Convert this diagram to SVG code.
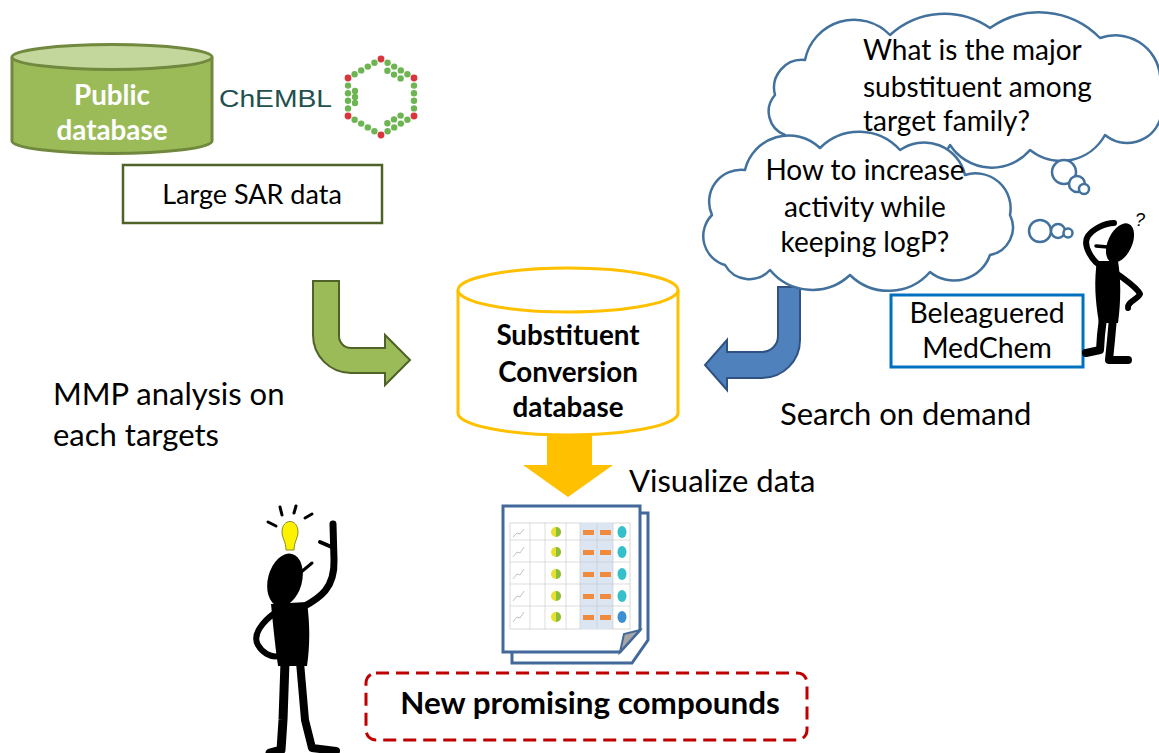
<svg xmlns="http://www.w3.org/2000/svg" width="1159" height="753" viewBox="0 0 1159 753">
  <style>
    .t { font-family: Lato, "Open Sans", "Liberation Sans", sans-serif; font-size: 28px; fill: #000; }
    .big { font-size: 31px; }
    .b { font-family: Lato, "Open Sans", "Liberation Sans", sans-serif; font-size: 27.8px; font-weight: bold; fill: #000; }
    .mid { text-anchor: middle; }
    .cloud { fill: #fff; stroke: #41719C; stroke-width: 2.5; stroke-linejoin: round; }
    .ink { fill: none; stroke: #000; stroke-linecap: round; stroke-linejoin: round; }
    .gd { fill: #6DB552; }
    .rd { fill: #D8363D; }
    .grid { stroke: #C8C8C8; stroke-width: 0.6; }
  </style>

  <!-- public database cylinder -->
  <g id="public-db">
    <path d="M12,57 L12,141 A100,12.5 0 0 0 212,141 L212,57" fill="#9BBB59" stroke="#71893F" stroke-width="3"/>
    <ellipse cx="112" cy="57" rx="100" ry="12.5" fill="#C3D69B" stroke="#71893F" stroke-width="3"/>
    <text class="b mid" x="112" y="105" style="fill:#fff">Public</text>
    <text class="b mid" x="112" y="140" style="fill:#fff">database</text>
  </g>

  <!-- ChEMBL logo: name and dotted hexagon -->
  <g id="chembl">
    <text x="219" y="107" font-family="'Liberation Sans', Arial, sans-serif" font-size="24" fill="#224F50" textLength="113" lengthAdjust="spacingAndGlyphs">ChEMBL</text>
    <g class="gd">
      <circle cx="387.6" cy="62.8" r="3.2"/><circle cx="394.2" cy="66.6" r="3.2"/><circle cx="400.8" cy="70.4" r="3.2"/><circle cx="407.4" cy="74.2" r="3.2"/>
      <circle cx="387.4" cy="70.8" r="3.2"/><circle cx="394" cy="74.6" r="3.2"/><circle cx="400.6" cy="78.4" r="3.2"/>
      <circle cx="414" cy="85.6" r="3.2"/><circle cx="414" cy="93.2" r="3.2"/><circle cx="414" cy="100.8" r="3.2"/><circle cx="414" cy="108.4" r="3.2"/>
      <circle cx="407.4" cy="119.8" r="3.2"/><circle cx="400.8" cy="123.6" r="3.2"/><circle cx="394.2" cy="127.4" r="3.2"/><circle cx="387.6" cy="131.2" r="3.2"/>
      <circle cx="400.6" cy="115.6" r="3.2"/><circle cx="394" cy="119.4" r="3.2"/><circle cx="387.4" cy="123.2" r="3.2"/>
      <circle cx="374.4" cy="131.2" r="3.2"/><circle cx="367.8" cy="127.4" r="3.2"/><circle cx="361.2" cy="123.6" r="3.2"/><circle cx="354.6" cy="119.8" r="3.2"/>
      <circle cx="348" cy="108.4" r="3.2"/><circle cx="348" cy="100.8" r="3.2"/><circle cx="348" cy="93.2" r="3.2"/><circle cx="348" cy="85.6" r="3.2"/>
      <circle cx="355" cy="103" r="3.2"/><circle cx="355" cy="97" r="3.2"/><circle cx="355" cy="91" r="3.2"/>
      <circle cx="354.6" cy="74.2" r="3.2"/><circle cx="361.2" cy="70.4" r="3.2"/><circle cx="367.8" cy="66.6" r="3.2"/><circle cx="374.4" cy="62.8" r="3.2"/>
    </g>
    <g class="rd">
      <circle cx="381" cy="59" r="3.4"/><circle cx="414" cy="78" r="3.4"/><circle cx="414" cy="116" r="3.4"/>
      <circle cx="381" cy="135" r="3.4"/><circle cx="348" cy="116" r="3.4"/><circle cx="348" cy="78" r="3.4"/>
    </g>
  </g>

  <!-- source data box -->
  <g id="large-sar">
    <rect x="123" y="165" width="259" height="58" fill="#fff" stroke="#4F6228" stroke-width="2.5"/>
    <text class="t mid" x="252" y="204" style="font-size:27px">Large SAR data</text>
  </g>

  <!-- connectors: bent arrows and the output arrow -->
  <g id="connectors">
    <path id="arrow-mmp" d="M313,281 L339,281 L339,336 A12,12 0 0 0 351,348 L385,348 L385,335 L410,360 L385,385 L385,373 L351,373 A38,38 0 0 1 313,335 Z" fill="#9BBB59" stroke="#4F6228" stroke-width="2"/>
    <path id="arrow-search" d="M778,287 L800,287 L800,340 A38,38 0 0 1 762,378 L727,378 L727,390 L705,365 L727,340 L727,352 L762,352 A16,16 0 0 0 778,336 Z" fill="#4F81BD" stroke="#2F5283" stroke-width="2"/>
    <path id="arrow-visualize" d="M547,430 L592,430 L592,465 L613,465 L568,497 L523,465 L547,465 Z" fill="#FFC000"/>
  </g>

  <!-- central database cylinder -->
  <g id="substituent-db">
    <path d="M458,290 L458,413 A110,22 0 0 0 678,413 L678,290" fill="#fff" stroke="#FFC000" stroke-width="3"/>
    <ellipse cx="568" cy="290" rx="110" ry="22" fill="#fff" stroke="#FFC000" stroke-width="3"/>
    <text class="b mid" x="568" y="345">Substituent</text>
    <text class="b mid" x="568" y="382">Conversion</text>
    <text class="b mid" x="568" y="417">database</text>
  </g>

  <!-- edge labels -->
  <g id="labels">
    <text class="t big" x="53" y="405">MMP analysis on</text>
    <text class="t big" x="53" y="446">each targets</text>
    <text class="t big" x="780" y="425">Search on demand</text>
    <text class="t big" x="629" y="492">Visualize data</text>
  </g>

  <!-- thought clouds -->
  <g id="cloud-major">
    <path class="cloud" d="M785,135 A25,25 0 0 1 775,95 A28,28 0 0 1 805,60 A50,50 0 0 1 890,35 A80,80 0 0 1 990,28 A85,85 0 0 1 1100,38 A45,45 0 0 1 1160,75 A30,30 0 0 1 1160,120 A35,35 0 0 1 1105,135 A50,50 0 0 1 1030,150 A50,50 0 0 1 950,145 A50,50 0 0 1 860,145 A45,45 0 0 1 785,135 Z"/>
    <circle class="cloud" cx="1064" cy="172" r="12"/>
    <circle class="cloud" cx="1077" cy="184" r="8"/>
    <circle class="cloud" cx="1084" cy="189" r="5"/>
    <text class="t" x="863" y="60">What is the major</text>
    <text class="t" x="863" y="97">substituent among</text>
    <text class="t" x="863" y="131">target family?</text>
  </g>

  <g id="cloud-logp">
    <path class="cloud" d="M725,265 A30,30 0 0 1 712,215 A32,32 0 0 1 745,170 A45,45 0 0 1 820,148 A55,55 0 0 1 900,150 A42,42 0 0 1 965,175 A35,35 0 0 1 1010,215 A28,28 0 0 1 990,255 A38,38 0 0 1 930,272 A55,55 0 0 1 850,275 A55,55 0 0 1 770,270 A28,28 0 0 1 725,265 Z"/>
    <circle class="cloud" cx="1040" cy="231" r="11"/>
    <circle class="cloud" cx="1058" cy="231" r="7"/>
    <circle class="cloud" cx="1068" cy="233" r="4.5"/>
    <text class="t mid" x="865" y="180">How to increase</text>
    <text class="t mid" x="865" y="217">activity while</text>
    <text class="t mid" x="865" y="252">keeping logP?</text>
  </g>

  <!-- puzzled chemist -->
  <g id="medchem">
    <rect x="891" y="295" width="192" height="72" fill="#fff" stroke="#0070C0" stroke-width="3"/>
    <text class="t mid" x="987" y="323" style="font-size:28.4px">Beleaguered</text>
    <text class="t mid" x="987" y="358" style="font-size:28.4px">MedChem</text>
    <ellipse cx="1120" cy="243" rx="12" ry="21" transform="rotate(25 1120 243)" fill="#000"/>
    <path class="ink" d="M1108,247 L1096,246" stroke-width="3.5"/>
    <path class="ink" d="M1104,268 C1092,262 1082,245 1088,236 C1093,229 1105,223 1114,223" stroke-width="6"/>
    <path d="M1097,261 L1118,261 C1121,280 1121,300 1118,323 L1099,323 C1095,300 1094,280 1097,261 Z" fill="#000"/>
    <path class="ink" d="M1115,272 C1125,280 1137,287 1140,294 C1137,300 1127,302 1128,308" stroke-width="6"/>
    <path class="ink" d="M1103,318 L1101,335 L1100,350 L1086,353" stroke-width="8"/>
    <path class="ink" d="M1113,318 L1111,340 L1109,360 L1128,360" stroke-width="8"/>
    <text x="1135" y="226" font-family="'Liberation Sans', sans-serif" font-size="18" font-style="italic" fill="#000">?</text>
  </g>

  <!-- result report pages -->
  <g id="report">
    <path d="M512,513 L648,513 L648,640 L632,663 L512,663 Z" fill="#fff" stroke="#43699A" stroke-width="3"/>
    <path d="M503,506 L640,506 L640,630 L620,652 L503,652 Z" fill="#fff" stroke="#43699A" stroke-width="3"/>
    <path d="M640,630 L620,652 L624,634 Z" fill="#A6A6A6" stroke="#43699A" stroke-width="2"/>
    <rect x="510" y="523" width="120" height="106" fill="#fff" stroke="#BFBFBF" stroke-width="0.6"/>
    <rect x="580" y="523" width="33" height="106" fill="#DCE6F2"/>
    <g class="grid">
      <line x1="510" y1="540" x2="630" y2="540"/><line x1="510" y1="562" x2="630" y2="562"/>
      <line x1="510" y1="584" x2="630" y2="584"/><line x1="510" y1="606" x2="630" y2="606"/>
      <line x1="530" y1="523" x2="530" y2="629"/><line x1="545" y1="523" x2="545" y2="629"/>
      <line x1="566" y1="523" x2="566" y2="629"/><line x1="580" y1="523" x2="580" y2="629"/>
      <line x1="597" y1="523" x2="597" y2="629"/><line x1="613" y1="523" x2="613" y2="629"/>
    </g>
    <g fill="none" stroke="#999" stroke-width="0.6">
      <path d="M513,537 L517,533 L520,534 L524,529"/><path d="M513,557 L517,552 L520,553 L524,547"/>
      <path d="M513,579 L517,574 L520,575 L524,569"/><path d="M513,601 L517,596 L520,597 L524,591"/>
      <path d="M513,622 L517,617 L520,618 L524,612"/>
    </g>
    <g>
      <circle cx="556" cy="532" r="5" fill="#E8E030"/><path d="M556,532 L556,527 A5,5 0 0 1 556,537 Z" fill="#8BBF3A"/>
      <circle cx="556" cy="552" r="5" fill="#E8E030"/><path d="M556,552 L556,547 A5,5 0 0 1 556,557 Z" fill="#8BBF3A"/>
      <circle cx="556" cy="574" r="5" fill="#E8E030"/><path d="M556,574 L556,569 A5,5 0 0 1 556,579 Z" fill="#8BBF3A"/>
      <circle cx="556" cy="596" r="5" fill="#E8E030"/><path d="M556,596 L556,591 A5,5 0 0 1 556,601 Z" fill="#8BBF3A"/>
      <circle cx="556" cy="617" r="5" fill="#E8E030"/><path d="M556,617 L556,612 A5,5 0 0 1 556,622 Z" fill="#8BBF3A"/>
    </g>
    <g fill="#F08A3C">
      <rect x="583" y="530" width="11" height="5"/><rect x="600" y="530" width="11" height="5"/>
      <rect x="583" y="550" width="11" height="5"/><rect x="600" y="550" width="11" height="5"/>
      <rect x="583" y="572" width="11" height="5"/><rect x="600" y="572" width="11" height="5"/>
      <rect x="583" y="594" width="11" height="5"/><rect x="600" y="594" width="11" height="5"/>
      <rect x="583" y="615" width="11" height="5"/><rect x="600" y="615" width="11" height="5"/>
    </g>
    <g fill="#35BFCB">
      <ellipse cx="622" cy="532" rx="4.5" ry="6"/><ellipse cx="622" cy="552" rx="4.5" ry="6"/>
      <ellipse cx="622" cy="574" rx="4.5" ry="6"/><ellipse cx="622" cy="596" rx="4.5" ry="6"/>
      <ellipse cx="622" cy="617" rx="4.5" ry="6" fill="#3D8FD0"/>
    </g>
  </g>

  <!-- inspired chemist -->
  <g id="idea">
    <path d="M282,532 C282,518 298,518 298,532 C298,538 294,542 294,550 L286,550 C286,542 282,538 282,532 Z" fill="#FFF200" stroke="#8A8A20" stroke-width="1"/>
    <g class="ink" stroke-width="3">
      <path d="M268,522 L276,526"/><path d="M280,507 L282,515"/><path d="M296,506 L294,513"/><path d="M305,518 L312,514"/>
    </g>
    <ellipse cx="285" cy="580" rx="17" ry="27" transform="rotate(15 285 580)" fill="#000"/>
    <path class="ink" d="M300,573 L312,563" stroke-width="3"/>
    <path d="M271,604 L307,602 C310,625 310,645 307,666 L278,666 C275,645 273,625 271,604 Z" fill="#000"/>
    <path class="ink" d="M303,607 C320,598 335,588 334,560 L333,524" stroke-width="7"/>
    <path class="ink" d="M334,548 L320,542" stroke-width="4"/>
    <path class="ink" d="M276,612 C262,622 252,635 258,645 C262,652 270,658 279,656" stroke-width="6"/>
    <path class="ink" d="M285,662 L283,720 L281,750 L270,753" stroke-width="9"/>
    <path class="ink" d="M300,662 L305,720 L312,748 L336,751" stroke-width="8"/>
  </g>

  <!-- outcome box -->
  <g id="outcome">
    <rect x="366" y="673" width="441" height="67" rx="10" fill="#fff" stroke="#C00000" stroke-width="3" stroke-dasharray="13 7"/>
    <text class="b mid" x="590" y="714" style="font-size:31.4px">New promising compounds</text>
  </g>
</svg>
